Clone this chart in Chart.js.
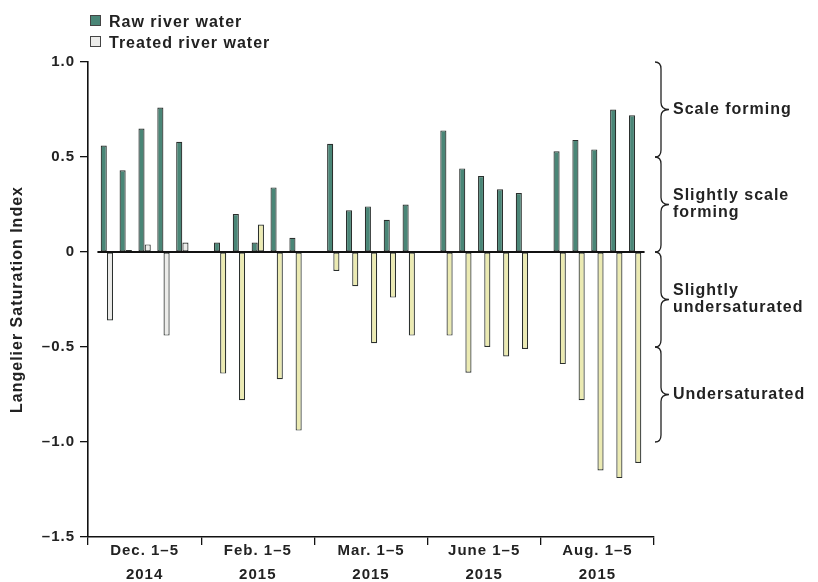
<!DOCTYPE html>
<html>
<head>
<meta charset="utf-8">
<script src="https://cdn.jsdelivr.net/npm/chart.js@4.4.1/dist/chart.umd.min.js"></script>
<style>
  body { margin: 0; background: #fff; }
  #wrap { position: relative; width: 818px; height: 582px; }
  #legend { position: absolute; left: 90px; top: 11px; font: bold 16px "Liberation Sans", Arial, sans-serif; letter-spacing: 1px; color: #222; }
  #legend div { height: 21px; line-height: 21px; }
  #legend span.box { display: inline-block; width: 9px; height: 9px; border: 1px solid #444; margin-right: 8px; vertical-align: 1px; }
</style>
</head>
<body>
<div id="wrap">
  <canvas id="lsiChart" width="818" height="582"></canvas>
  <div id="legend"></div>
</div>
<script>
const groupLabels = [['Dec. 1\u20135', '2014'], ['Feb. 1\u20135', '2015'], ['Mar. 1\u20135', '2015'], ['June 1\u20135', '2015'], ['Aug. 1\u20135', '2015']];
const seriesNames = ['Raw river water', 'Treated river water'];

// 5 days per sampling period, in order of groupLabels
const rawWater = [0.56, 0.43, 0.65, 0.76, 0.58,
                  0.05, 0.20, 0.05, 0.34, 0.075,
                  0.57, 0.22, 0.24, 0.17, 0.25,
                  0.64, 0.44, 0.40, 0.33, 0.31,
                  0.53, 0.59, 0.54, 0.75, 0.72];
const treatedWater = [-0.36, 0.01, 0.04, -0.44, 0.05,
                      -0.64, -0.78, 0.145, -0.67, -0.94,
                      -0.10, -0.18, -0.48, -0.24, -0.44,
                      -0.44, -0.635, -0.50, -0.55, -0.51,
                      -0.59, -0.78, -1.15, -1.19, -1.11];

const yTicks = [-1.5, -1.0, -0.5, 0, 0.5, 1.0];
const bandEdges = [1.0, 0.5, 0, -0.5, -1.0];
const bandLabels = [['Scale forming'], ['Slightly scale', 'forming'], ['Slightly', 'undersaturated'], ['Undersaturated']];

const rawColor = '#4a8677';
const treatedGray = '#ececea';
const treatedYellow = '#ebeab2';
const ink = '#222';
const FONT = '"Liberation Sans", Arial, sans-serif';

// one empty slot between periods so tick marks sit between groups
const labels = [];
const rawSlots = [];
const treatedSlots = [];
groupLabels.forEach((g, gi) => {
    labels.push('');
    rawSlots.push(null);
    treatedSlots.push(null);
    for (let d = 0; d < 5; d++) {
        labels.push(d === 2 ? g : '');
        rawSlots.push(rawWater[gi * 5 + d]);
        treatedSlots.push(treatedWater[gi * 5 + d]);
    }
});
labels.push('');
rawSlots.push(null);
treatedSlots.push(null);

document.getElementById('legend').innerHTML =
    `<div><span class="box" style="background:${rawColor}"></span>${seriesNames[0]}</div>` +
    `<div><span class="box" style="background:${treatedGray}"></span>${seriesNames[1]}</div>`;

const spacing = {
    id: 'spacing',
    beforeLayout(chart) { chart.ctx.letterSpacing = '1px'; },
    beforeDraw(chart) { chart.ctx.letterSpacing = '1px'; }
};

const annotations = {
    id: 'annotations',
    afterDatasetsDraw(chart) {
        const { ctx, scales: { x, y } } = chart;
        ctx.save();
        ctx.strokeStyle = '#111';
        ctx.lineWidth = 2;
        ctx.beginPath();
        ctx.moveTo(x.getPixelForValue(0.5), y.getPixelForValue(0));
        ctx.lineTo(x.getPixelForValue(29.5), y.getPixelForValue(0));
        ctx.stroke();
        ctx.restore();
    },
    afterDraw(chart) {
        const { ctx, chartArea, scales: { y } } = chart;
        const x0 = chartArea.right + 1, xb = chartArea.right + 7, xt = chartArea.right + 15;
        const r = 7;
        ctx.save();
        ctx.letterSpacing = '1px';
        ctx.strokeStyle = ink;
        ctx.lineWidth = 1.3;
        ctx.fillStyle = ink;
        ctx.font = 'bold 16px ' + FONT;
        ctx.textBaseline = 'middle';
        for (let i = 0; i < bandLabels.length; i++) {
            const y1 = y.getPixelForValue(bandEdges[i]);
            const y2 = y.getPixelForValue(bandEdges[i + 1]);
            const m = (y1 + y2) / 2;
            ctx.beginPath();
            ctx.moveTo(x0, y1);
            ctx.quadraticCurveTo(xb, y1, xb, y1 + r);
            ctx.lineTo(xb, m - r);
            ctx.quadraticCurveTo(xb, m, xt, m);
            ctx.quadraticCurveTo(xb, m, xb, m + r);
            ctx.lineTo(xb, y2 - r);
            ctx.quadraticCurveTo(xb, y2, x0, y2);
            ctx.stroke();
            const lines = bandLabels[i];
            lines.forEach((t, li) => {
                ctx.fillText(t, chartArea.right + 19, m + (li - (lines.length - 1) / 2) * 17);
            });
        }
        ctx.restore();
    }
};

new Chart(document.getElementById('lsiChart'), {
    type: 'bar',
    data: {
        labels: labels,
        datasets: [{
            label: seriesNames[0],
            data: rawSlots,
            backgroundColor: rawColor,
            borderColor: '#2b302e',
            borderWidth: 1.2,
            borderSkipped: false
        }, {
            label: seriesNames[1],
            data: treatedSlots,
            backgroundColor: (c) => c.dataIndex < 6 ? treatedGray : treatedYellow,
            borderColor: '#2b302e',
            borderWidth: 1.2,
            borderSkipped: false
        }]
    },
    options: {
        responsive: false,
        animation: false,
        layout: { padding: { top: 62, right: 164, left: 0, bottom: 0 } },
        categoryPercentage: 0.66,
        barPercentage: 0.98,
        plugins: {
            legend: { display: false },
            tooltip: { enabled: false }
        },
        scales: {
            x: {
                offset: false,
                grid: {
                    offset: false,
                    drawOnChartArea: false,
                    drawTicks: true,
                    tickLength: 8,
                    lineWidth: 1.3,
                    color: (c) => c.index % 6 === 0 ? '#111' : 'rgba(0,0,0,0)'
                },
                border: { display: true, color: '#111', width: 1.6 },
                ticks: {
                    autoSkip: false,
                    maxRotation: 0,
                    padding: -6,
                    color: ink,
                    font: { family: FONT, size: 15, weight: 'bold', lineHeight: 1.6 }
                },
                afterFit: (s) => { s.height = 45; }
            },
            y: {
                min: -1.5,
                max: 1.0,
                afterBuildTicks: (s) => { s.ticks = yTicks.map(v => ({ value: v })); },
                grid: {
                    drawOnChartArea: false,
                    drawTicks: true,
                    tickLength: 8,
                    lineWidth: 1.3,
                    color: '#111'
                },
                border: { display: true, color: '#111', width: 1.6 },
                ticks: {
                    padding: 5,
                    color: ink,
                    font: { family: FONT, size: 15, weight: 'bold' },
                    callback: (v) => v === 0 ? '0' : v.toFixed(1).replace('-', '\u2013')
                },
                title: {
                    display: true,
                    text: 'Langelier Saturation Index',
                    color: ink,
                    padding: { top: 8, bottom: 0 },
                    font: { family: FONT, size: 16, weight: 'bold' }
                },
                afterFit: (s) => { s.width = 88; }
            }
        }
    },
    plugins: [spacing, annotations]
});
</script>
</body>
</html>
